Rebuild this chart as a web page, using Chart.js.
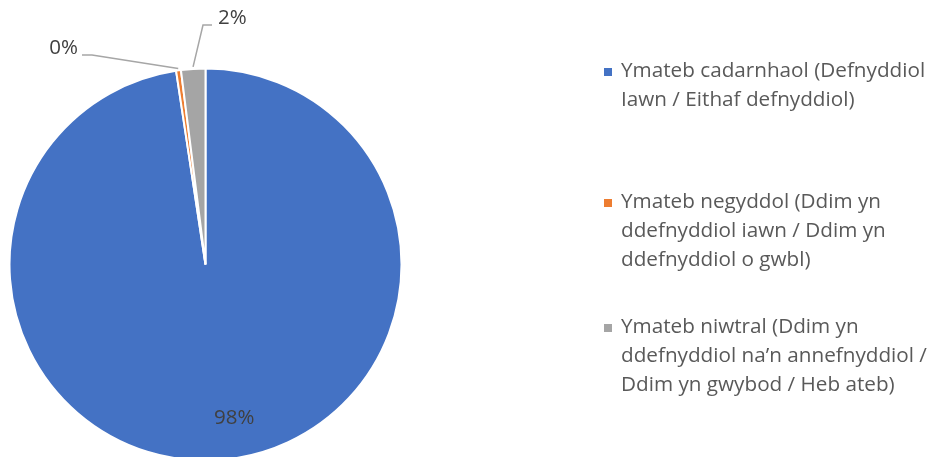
<!DOCTYPE html>
<html>
<head>
<meta charset="utf-8">
<script src="https://cdn.jsdelivr.net/npm/chart.js@4.4.1/dist/chart.umd.min.js"></script>
<style>
  body { margin:0; background:#fff; }
  #wrap { position:relative; width:938px; height:457px; overflow:hidden; }
  #myChart { position:absolute; left:0; top:0; }
  .leg { position:absolute; left:604px; font-family:"Open Sans", sans-serif; font-size:20.7px; line-height:28.8px; color:#595959; white-space:nowrap; }
  .leg .sw { position:absolute; left:0; top:13px; width:8px; height:8px; }
  .leg .tx { position:absolute; left:17px; top:0; }
</style>
</head>
<body>
<div id="wrap">
  <canvas id="myChart" width="938" height="457"></canvas>
  <div id="legend"></div>
</div>
<script>
// categories, values, label text
var categories = [
  "Ymateb cadarnhaol (Defnyddiol Iawn / Eithaf defnyddiol)",
  "Ymateb negyddol (Ddim yn ddefnyddiol iawn / Ddim yn ddefnyddiol o gwbl)",
  "Ymateb niwtral (Ddim yn ddefnyddiol na\u2019n annefnyddiol / Ddim yn gwybod / Heb ateb)"
];
var legendLines = [
  ["Ymateb cadarnhaol (Defnyddiol", "Iawn / Eithaf defnyddiol)"],
  ["Ymateb negyddol (Ddim yn", "ddefnyddiol iawn / Ddim yn", "ddefnyddiol o gwbl)"],
  ["Ymateb niwtral (Ddim yn", "ddefnyddiol na\u2019n annefnyddiol /", "Ddim yn gwybod / Heb ateb)"]
];
var values = [97.6, 0.4, 2.0];
var valueLabels = ["98%", "0%", "2%"];
var colors = ["#4472c4", "#ed7d31", "#a5a5a5"];

// legend (html text)
var legTops = [55, 186, 311];
var legHtml = "";
legendLines.forEach((lines, i)=>{
  legHtml += '<div class="leg" style="top:'+legTops[i]+'px"><span class="sw" style="background:'+colors[i]+'"></span><div class="tx">'+lines.join("<br>")+'</div></div>';
});
document.getElementById("legend").innerHTML = legHtml;

// data labels with leader lines, drawn from the arc geometry
var labelPlugin = {
  id: "pieLabels",
  afterDatasetsDraw(chart){
    var ctx = chart.ctx;
    var arcs = chart.getDatasetMeta(0).data;
    ctx.save();
    ctx.font = "20.5px 'Open Sans', sans-serif";
    ctx.fillStyle = "#404040";
    ctx.textBaseline = "middle";
    arcs.forEach((arc, i)=>{
      var p = arc.getProps(["x","y","startAngle","endAngle","outerRadius"], true);
      var mid = (p.startAngle + p.endAngle)/2;
      if (i === 0) {
        // inside label
        var r = p.outerRadius * 0.8;
        ctx.textAlign = "center";
        ctx.fillText(valueLabels[i], p.x + Math.cos(mid)*r + 17, p.y + Math.sin(mid)*r - 3);
        return;
      }
      var sx = p.x + Math.cos(mid)*(p.outerRadius+2);
      var sy = p.y + Math.sin(mid)*(p.outerRadius+2);
      var ex, ey, hx;
      if (i === 1) { ex = p.x - 113.5; ey = p.y - 209.5; hx = ex - 10; }
      else { ex = p.x - 2.5; ey = p.y - 239.5; hx = ex + 9; }
      ctx.strokeStyle = "#a6a6a6";
      ctx.lineWidth = 1.5;
      ctx.beginPath();
      ctx.moveTo(sx, sy);
      ctx.lineTo(ex, ey);
      ctx.lineTo(hx, ey);
      ctx.stroke();
      if (i === 1) { ctx.textAlign = "right"; ctx.fillText(valueLabels[i], hx - 4, ey - 7); }
      else { ctx.textAlign = "left"; ctx.fillText(valueLabels[i], hx + 6, ey - 7); }
    });
    ctx.restore();
  }
};

var chart = new Chart(document.getElementById("myChart").getContext("2d"), {
  type: "pie",
  data: {
    labels: categories,
    datasets: [{
      data: values,
      backgroundColor: colors,
      borderColor: "#ffffff",
      borderWidth: 2,
      radius: 196,
      clip: false
    }]
  },
  options: {
    responsive: false,
    animation: false,
    layout: { padding: { left: 9, right: 536, top: 72, bottom: -1 } },
    plugins: { legend: { display: false }, tooltip: { enabled: false } }
  },
  plugins: [labelPlugin]
});
</script>
</body>
</html>
